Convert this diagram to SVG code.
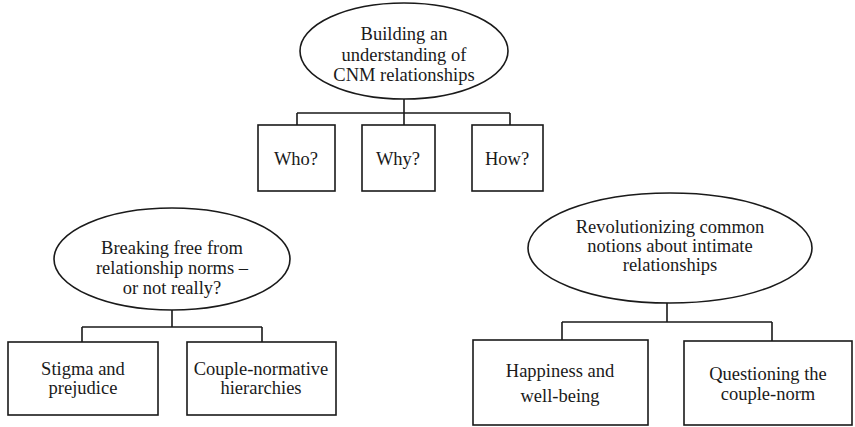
<svg xmlns="http://www.w3.org/2000/svg" width="855" height="427" viewBox="0 0 855 427">
<style>
.n{fill:#fff;stroke:#1a1a1a;stroke-width:1.6}
.t{font-family:'Liberation Serif','Times New Roman','DejaVu Serif',serif;font-size:18.5px;fill:#1a1a1a;text-anchor:middle}
.c{fill:none;stroke:#1a1a1a;stroke-width:1.6}
</style>
<rect width="855" height="427" fill="#fff"/>
<g id="connectors">
<path class="c" d="M404 99V113M297 113H510M297 113V125M404 113V125M510 113V125"/>
<path class="c" d="M172 310V327M82 327H262M82 327V342M262 327V342"/>
<path class="c" d="M667 302V322M562 322H772M562 322V340M772 322V341"/>
</g>
<g id="top">
<ellipse class="n" cx="404" cy="51" rx="104" ry="48"/>
<text class="t" x="404" y="40">Building an</text>
<text class="t" x="404" y="61">understanding of</text>
<text class="t" x="404" y="81">CNM relationships</text>
</g>
<g id="who"><rect class="n" x="258" y="125" width="77" height="66"/><text class="t" x="296" y="165">Who?</text></g>
<g id="why"><rect class="n" x="362" y="125" width="73" height="66"/><text class="t" x="398" y="165">Why?</text></g>
<g id="how"><rect class="n" x="472" y="125" width="71" height="66"/><text class="t" x="507" y="165">How?</text></g>
<g id="left">
<ellipse class="n" cx="172" cy="259" rx="118" ry="51"/>
<text class="t" x="172" y="254">Breaking free from</text>
<text class="t" x="172" y="274">relationship norms –</text>
<text class="t" x="172" y="294">or not really?</text>
</g>
<g id="stigma"><rect class="n" x="8" y="342" width="150" height="73"/><text class="t" x="83" y="375">Stigma and</text><text class="t" x="83" y="394">prejudice</text></g>
<g id="couple"><rect class="n" x="187" y="342" width="149" height="73"/><text class="t" x="261" y="375">Couple-normative</text><text class="t" x="261" y="394">hierarchies</text></g>
<g id="right">
<ellipse class="n" cx="670" cy="248" rx="142" ry="55"/>
<text class="t" x="670" y="233">Revolutionizing common</text>
<text class="t" x="670" y="252">notions about intimate</text>
<text class="t" x="670" y="271">relationships</text>
</g>
<g id="happy"><rect class="n" x="473" y="340" width="175" height="85" stroke-width="2"/><text class="t" x="560" y="377">Happiness and</text><text class="t" x="560" y="402">well-being</text></g>
<g id="question"><rect class="n" x="684" y="341" width="168" height="84" stroke-width="2"/><text class="t" x="768" y="380">Questioning the</text><text class="t" x="768" y="400">couple-norm</text></g>
</svg>
